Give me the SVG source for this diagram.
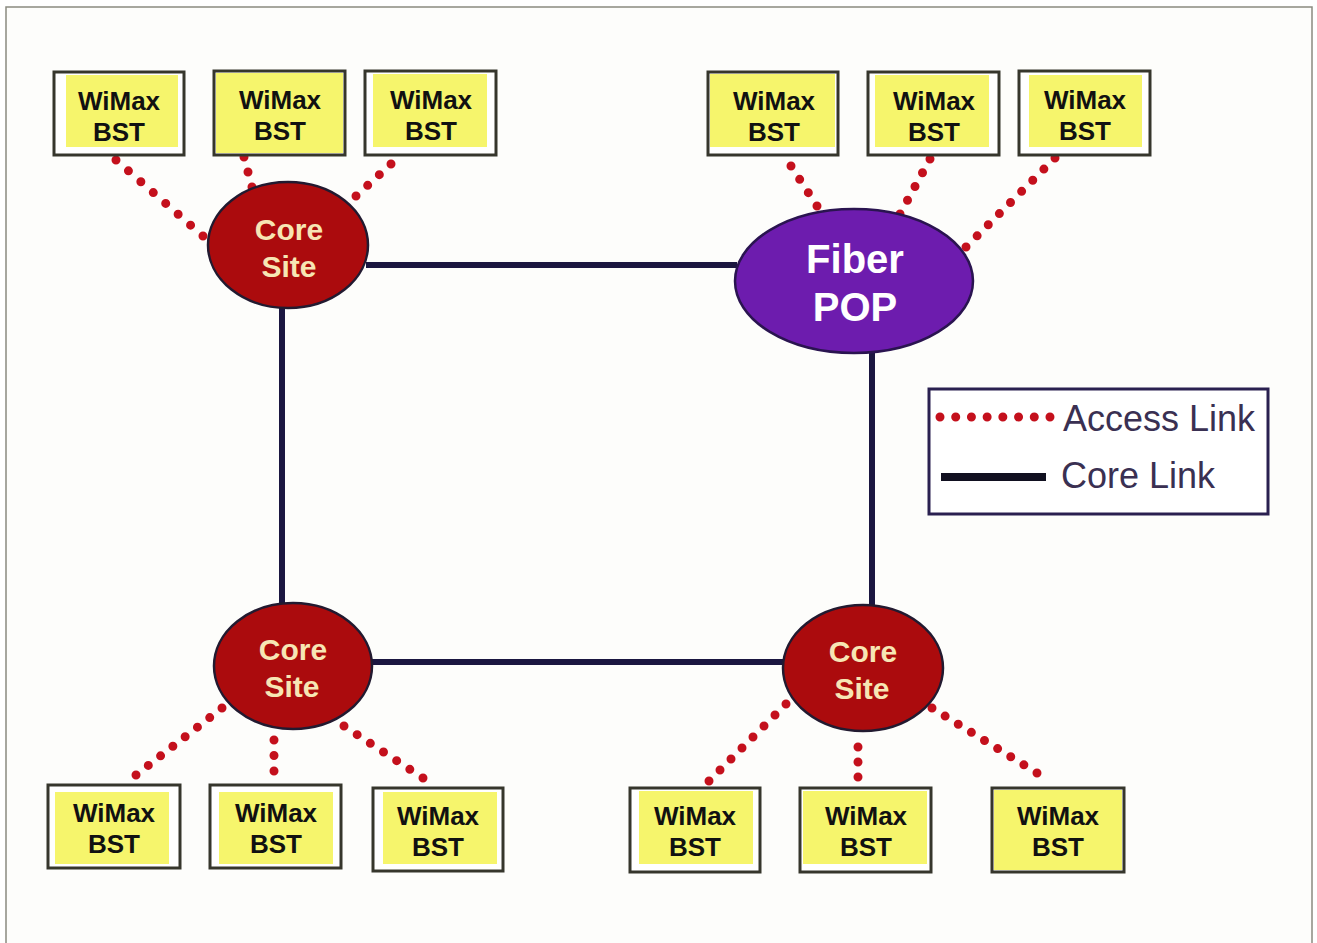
<svg xmlns="http://www.w3.org/2000/svg" width="1317" height="943" viewBox="0 0 1317 943">
  <defs>
    <style>
      .frame { fill: #fdfdfb; stroke: #8a8a80; stroke-width: 1.5; }
      .box { fill: #ffffff; stroke: #36362c; stroke-width: 3; }
      .yel { fill: #f6f56c; }
      .bst { font-family: "Liberation Sans", Arial, sans-serif; font-weight: bold; font-size: 26px; fill: #111111; text-anchor: middle; }
      .core { fill: #ab0b0d; stroke: #221a30; stroke-width: 2.5; }
      .pop { fill: #6d1cae; stroke: #2a1450; stroke-width: 2.5; }
      .coretxt { font-family: "Liberation Sans", Arial, sans-serif; font-weight: bold; font-size: 30px; fill: #f7e6b4; text-anchor: middle; }
      .poptxt { font-family: "Liberation Sans", Arial, sans-serif; font-weight: bold; font-size: 40px; fill: #ffffff; text-anchor: middle; }
      .corelink { stroke: #1b1640; stroke-width: 6; fill: none; }
      .access { stroke: #c4101c; stroke-width: 9; stroke-linecap: round; stroke-dasharray: 0 1; fill: none; }
      .legtxt { font-family: "Liberation Sans", Arial, sans-serif; font-size: 36px; fill: #3a3052; }
    </style>
  </defs>

  <rect class="frame" x="6" y="7" width="1306" height="945"/>

  <!-- core links -->
  <g id="core-links">
    <line class="corelink" x1="366" y1="265" x2="737" y2="265"/>
    <line class="corelink" x1="282" y1="306" x2="282" y2="604"/>
    <line class="corelink" x1="872" y1="350" x2="872" y2="607"/>
    <line class="corelink" x1="371" y1="662" x2="785" y2="662"/>
  </g>

  <!-- access links: one dot per unit of pathLength -->
  <g id="access-links">
    <line class="access" pathLength="7.001" x1="116" y1="160" x2="203" y2="236"/>
    <line class="access" pathLength="2.001" x1="244" y1="157" x2="252" y2="187"/>
    <line class="access" pathLength="3.001" x1="391" y1="164" x2="356" y2="196"/>
    <line class="access" pathLength="3.001" x1="791" y1="166" x2="817" y2="206"/>
    <line class="access" pathLength="4.001" x1="930" y1="159" x2="900" y2="214"/>
    <line class="access" pathLength="8.001" x1="1055" y1="158" x2="966" y2="247"/>
    <line class="access" pathLength="7.001" x1="222" y1="708" x2="136" y2="775"/>
    <line class="access" pathLength="2.001" x1="274" y1="740" x2="274" y2="771"/>
    <line class="access" pathLength="6.001" x1="344" y1="726" x2="423" y2="778"/>
    <line class="access" pathLength="7.001" x1="786" y1="704" x2="709" y2="781"/>
    <line class="access" pathLength="2.001" x1="858" y1="747" x2="858" y2="777"/>
    <line class="access" pathLength="8.001" x1="932" y1="708" x2="1037" y2="773"/>
  </g>

  <!-- sites -->
  <g id="core-site-nw">
    <ellipse class="core" cx="288" cy="245" rx="80" ry="63"/>
    <text class="coretxt" x="289" y="240">Core</text>
    <text class="coretxt" x="289" y="277">Site</text>
  </g>
  <g id="fiber-pop">
    <ellipse class="pop" cx="854" cy="281" rx="119" ry="72"/>
    <text class="poptxt" x="855" y="273">Fiber</text>
    <text class="poptxt" x="855" y="321">POP</text>
  </g>
  <g id="core-site-sw">
    <ellipse class="core" cx="293" cy="666" rx="79" ry="63"/>
    <text class="coretxt" x="293" y="660">Core</text>
    <text class="coretxt" x="292" y="697">Site</text>
  </g>
  <g id="core-site-se">
    <ellipse class="core" cx="863" cy="668" rx="80" ry="63"/>
    <text class="coretxt" x="863" y="662">Core</text>
    <text class="coretxt" x="862" y="699">Site</text>
  </g>

  <!-- base stations -->
  <g id="bst-1">
    <rect class="box" x="54" y="72" width="130" height="83"/>
    <rect class="yel" x="66" y="75" width="112" height="72"/>
    <text class="bst" x="119" y="110">WiMax</text>
    <text class="bst" x="119" y="141">BST</text>
  </g>
  <g id="bst-2">
    <rect class="box" x="214" y="71" width="131" height="84"/>
    <rect class="yel" x="216" y="73" width="127" height="80"/>
    <text class="bst" x="280" y="109">WiMax</text>
    <text class="bst" x="280" y="140">BST</text>
  </g>
  <g id="bst-3">
    <rect class="box" x="365" y="71" width="131" height="84"/>
    <rect class="yel" x="373" y="74" width="114" height="73"/>
    <text class="bst" x="431" y="109">WiMax</text>
    <text class="bst" x="431" y="140">BST</text>
  </g>
  <g id="bst-4">
    <rect class="box" x="708" y="72" width="130" height="83"/>
    <rect class="yel" x="710" y="74" width="125" height="73"/>
    <text class="bst" x="774" y="110">WiMax</text>
    <text class="bst" x="774" y="141">BST</text>
  </g>
  <g id="bst-5">
    <rect class="box" x="868" y="72" width="131" height="83"/>
    <rect class="yel" x="875" y="75" width="114" height="72"/>
    <text class="bst" x="934" y="110">WiMax</text>
    <text class="bst" x="934" y="141">BST</text>
  </g>
  <g id="bst-6">
    <rect class="box" x="1019" y="71" width="131" height="84"/>
    <rect class="yel" x="1029" y="75" width="113" height="72"/>
    <text class="bst" x="1085" y="109">WiMax</text>
    <text class="bst" x="1085" y="140">BST</text>
  </g>
  <g id="bst-7">
    <rect class="box" x="48" y="785" width="132" height="83"/>
    <rect class="yel" x="55" y="792" width="114" height="72"/>
    <text class="bst" x="114" y="822">WiMax</text>
    <text class="bst" x="114" y="853">BST</text>
  </g>
  <g id="bst-8">
    <rect class="box" x="210" y="785" width="131" height="83"/>
    <rect class="yel" x="219" y="792" width="114" height="72"/>
    <text class="bst" x="276" y="822">WiMax</text>
    <text class="bst" x="276" y="853">BST</text>
  </g>
  <g id="bst-9">
    <rect class="box" x="373" y="788" width="130" height="83"/>
    <rect class="yel" x="383" y="792" width="114" height="72"/>
    <text class="bst" x="438" y="825">WiMax</text>
    <text class="bst" x="438" y="856">BST</text>
  </g>
  <g id="bst-10">
    <rect class="box" x="630" y="788" width="130" height="84"/>
    <rect class="yel" x="639" y="791" width="114" height="73"/>
    <text class="bst" x="695" y="825">WiMax</text>
    <text class="bst" x="695" y="856">BST</text>
  </g>
  <g id="bst-11">
    <rect class="box" x="800" y="788" width="131" height="84"/>
    <rect class="yel" x="803" y="791" width="124" height="73"/>
    <text class="bst" x="866" y="825">WiMax</text>
    <text class="bst" x="866" y="856">BST</text>
  </g>
  <g id="bst-12">
    <rect class="box" x="992" y="788" width="132" height="84"/>
    <rect class="yel" x="994" y="790" width="128" height="80"/>
    <text class="bst" x="1058" y="825">WiMax</text>
    <text class="bst" x="1058" y="856">BST</text>
  </g>

  <!-- legend -->
  <g id="legend">
    <rect x="929" y="389" width="339" height="125" fill="#ffffff" stroke="#2a2050" stroke-width="3"/>
    <line class="access" pathLength="7.001" x1="940" y1="417" x2="1050" y2="417"/>
    <text class="legtxt" x="1063" y="431">Access Link</text>
    <line x1="941" y1="477" x2="1046" y2="477" stroke="#111020" stroke-width="8"/>
    <text class="legtxt" x="1061" y="488">Core Link</text>
  </g>
</svg>
